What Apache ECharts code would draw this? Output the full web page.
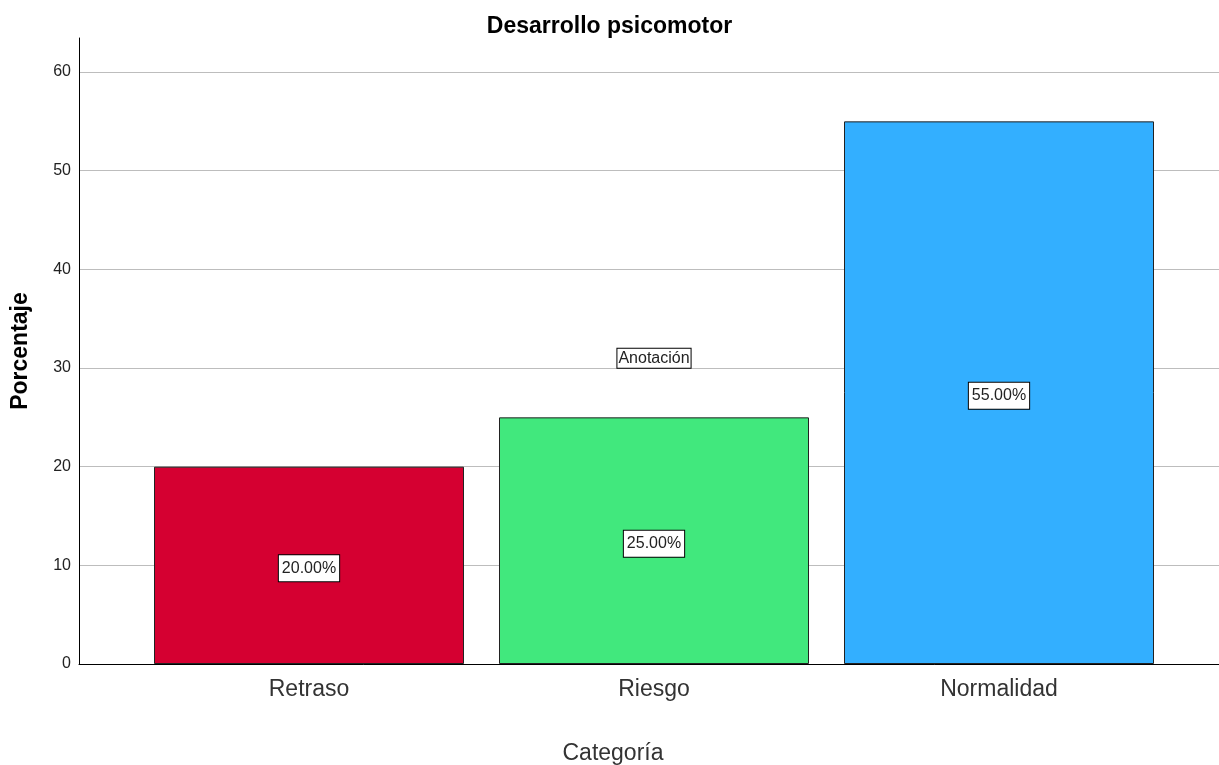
<!DOCTYPE html>
<html><head><meta charset="utf-8">
<script src="https://cdn.jsdelivr.net/npm/echarts@6/dist/echarts.min.js"></script>
<style>html,body{margin:0;padding:0;background:#fff}#c{width:1219px;height:765px}</style>
</head><body><div id="c"></div>
<script>
const categories = ['Retraso', 'Riesgo', 'Normalidad'];
const values = [20, 25, 55];
const barColors = ['#D50031', '#41E87D', '#33AFFF'];
const annotation = { category: 'Riesgo', value: 31, text: 'Anotación' };
const yTicks = [0, 10, 20, 30, 40, 50, 60];

const chart = echarts.init(document.getElementById('c'), null, { renderer: 'canvas' });
const font = 'Liberation Sans, Arial, sans-serif';
chart.setOption({
  animation: false,
  title: { text: 'Desarrollo psicomotor', left: 'center', top: 10,
    textStyle: { fontFamily: font, fontSize: 23, fontWeight: 'bold', color: '#000' } },
  grid: [
    { left: 79, right: 0, top: 38, bottom: 101, outerBoundsMode: 'none', containLabel: false },
    { left: 136.5, width: 1035, top: 38, bottom: 101, outerBoundsMode: 'none', containLabel: false }
  ],
  xAxis: [
    { gridIndex: 0, type: 'value', min: 0, max: 1, axisLine: { show: true, onZero: false, lineStyle: { color: '#000', width: 1 } },
      axisTick: { show: false }, axisLabel: { show: false }, splitLine: { show: false },
      name: 'Categoría', nameLocation: 'middle', nameGap: 78,
      nameTextStyle: { fontFamily: font, fontSize: 23, color: '#333', padding: [0, 72, 0, 0] } },
    { gridIndex: 1, type: 'category', data: categories, axisLine: { show: false }, axisTick: { show: false },
      axisLabel: { fontFamily: font, fontSize: 23, color: '#333', margin: 14 } }
  ],
  yAxis: [
    { gridIndex: 0, type: 'value', min: 0, max: 63.45, interval: 10,
      axisLine: { show: true, lineStyle: { color: '#000', width: 1 } },
      axisTick: { show: false },
      axisLabel: { fontFamily: font, fontSize: 16, color: '#222', margin: 8,
        formatter: v => yTicks.includes(v) ? String(v) : '', showMaxLabel: false },
      splitLine: { show: true, showMaxLine: false, lineStyle: { color: '#BDBDBD', width: 1 } },
      name: 'Porcentaje', nameLocation: 'middle', nameGap: 47,
      nameTextStyle: { fontFamily: font, fontSize: 23, fontWeight: 'bold', color: '#000' } },
    { gridIndex: 1, type: 'value', min: 0, max: 63.45, show: false, splitLine: { show: false } }
  ],
  series: [{
    type: 'bar', xAxisIndex: 1, yAxisIndex: 1, barWidth: 310,
    data: values.map((v, i) => ({ value: v, itemStyle: { color: barColors[i] } })),
    itemStyle: { borderColor: '#222', borderWidth: 1 },
    label: { show: true, position: 'inside', offset: [0, 3], formatter: p => p.value.toFixed(2) + '%',
      fontFamily: font, fontSize: 16, color: '#222', backgroundColor: '#fff',
      borderColor: '#000', borderWidth: 1, padding: [6, 3, 4, 3] },
    markPoint: {
      symbol: 'circle', symbolSize: 0,
      data: [{ coord: [annotation.category, annotation.value], value: annotation.text }],
      label: { show: true, position: 'inside', formatter: annotation.text,
        fontFamily: font, fontSize: 16, color: '#222', backgroundColor: '#fff',
        borderColor: '#000', borderWidth: 1, padding: [2, 1, 1, 1] }
    }
  }]
});
</script></body></html>
